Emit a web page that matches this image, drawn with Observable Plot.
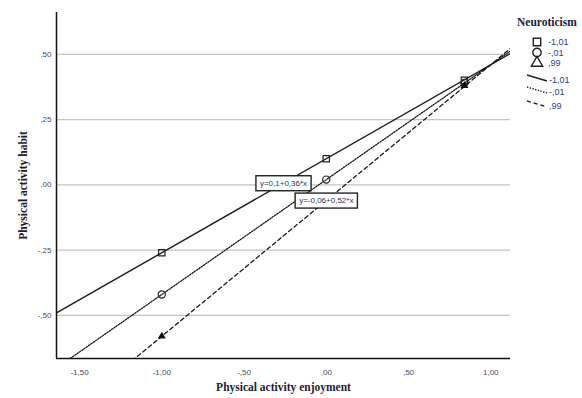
<!DOCTYPE html>
<html>
<head>
<meta charset="utf-8">
<script src="https://cdn.jsdelivr.net/npm/d3@7"></script>
<script src="https://cdn.jsdelivr.net/npm/@observablehq/plot@0.6"></script>
<style>
  html, body { margin: 0; padding: 0; background: #fff; }
  #chart { width: 582px; height: 398px; overflow: hidden; }
  #chart svg { overflow: hidden; }
  g[aria-label="x-axis label"] text, g[aria-label="y-axis label"] text {
    font-family: "Liberation Serif", "Times New Roman", serif; font-weight: bold; font-size: 11.5px; fill: #1c1c3a;
  }
</style>
</head>
<body>
<div id="chart"></div>
<script>
// ---- data ----
const xTicks = [-1.5, -1, -0.5, 0, 0.5, 1];
const yTicks = [-0.5, -0.25, 0, 0.25, 0.5];
const groups = ["-1,01", "-,01", ",99"];
const intercepts = [0.1, 0.02, -0.06];
const slopes = [0.36, 0.44, 0.52];
const pointX = [-1, 0, 0.84];
const pointY = [
  [-0.26, 0.10, 0.40],
  [-0.42, 0.02, 0.39],
  [-0.58, -0.06, 0.38]
];
const symbols = ["square", "circle", "triangle"];
const dashes = [null, "1.4,1.4", "4,3"];
const labelText = ["y=0,1+0,36*x", "y=-0,06+0,52*x"];
const labelGroup = [0, 2];
const labelX = [-0.26, 0];
const xDomain = [-1.64, 1.12];
const yDomain = [-0.665, 0.66];

// ---- derived tables ----
const points = [];
groups.forEach((g, i) => pointX.forEach((x, j) => points.push({g, x, y: pointY[i][j], sym: symbols[i], filled: i === 2})));
const lines = groups.map((g, i) => xDomain.map(x => ({g, x, y: intercepts[i] + slopes[i] * x})));
const labels = labelText.map((t, k) => ({t, x: labelX[k], y: intercepts[labelGroup[k]] + slopes[labelGroup[k]] * labelX[k]}));

const fmt = d => {
  let s = d.toFixed(2).replace(".", ",");
  return s.replace(/^(-?)0,/, "$1,");
};

const plot = Plot.plot({
  width: 582,
  height: 398,
  marginLeft: 56,
  marginRight: 72,
  marginTop: 12,
  marginBottom: 40,
  style: {fontFamily: "Liberation Sans, Arial, sans-serif", fontSize: "8px", background: "#fff"},
  x: {domain: xDomain},
  y: {domain: yDomain},
  marks: [
    Plot.gridY(yTicks, {stroke: "#c4c4c4", strokeOpacity: 1, strokeWidth: 1.3}),
    Plot.axisX(xTicks, {tickSize: 0, tickPadding: 11, tickFormat: fmt, color: "#3f4a66", label: "Physical activity enjoyment", labelAnchor: "center", labelOffset: 32, labelArrow: "none"}),
    Plot.axisY(yTicks, {tickSize: 0, tickPadding: 5, tickFormat: fmt, color: "#3f4a66", label: "Physical activity habit", labelAnchor: "center", labelOffset: 38, labelArrow: "none"}),
    ...lines.map((ln, i) => Plot.line(ln, {x: "x", y: "y", stroke: "#1a1a1a", strokeWidth: i === 0 ? 1.4 : 1.3, strokeDasharray: dashes[i], clip: true})),
    Plot.dot(points.filter(d => !d.filled), {x: "x", y: "y", symbol: "sym", r: 3.6, stroke: "#222", strokeWidth: 1.2, fill: "none"}),
    Plot.dot(points.filter(d => d.filled), {x: "x", y: "y", symbol: "sym", r: 2, stroke: "#111", fill: "#111"}),
    Plot.ruleX([xDomain[0]], {stroke: "#111", strokeWidth: 1.5}),
    Plot.ruleY([yDomain[0]], {stroke: "#111", strokeWidth: 1.5}),
    Plot.text(labels, {x: "x", y: "y", text: "t", fill: "#2b3560", fontSize: 8})
  ]
});

document.getElementById("chart").appendChild(plot);

// boxes behind equation labels
d3.select(plot).selectAll("text").filter(function() { return labelText.includes(this.textContent); }).each(function() {
  const b = this.getBBox();
  const padX = 4, padY = 3;
  const r = document.createElementNS("http://www.w3.org/2000/svg", "rect");
  r.setAttribute("x", b.x - padX);
  r.setAttribute("y", b.y - padY);
  r.setAttribute("width", b.width + 2 * padX);
  r.setAttribute("height", b.height + 2 * padY);
  r.setAttribute("fill", "#fff");
  r.setAttribute("stroke", "#222");
  r.setAttribute("stroke-width", "1.4");
  const tr = this.getAttribute("transform");
  if (tr) r.setAttribute("transform", tr);
  this.parentNode.insertBefore(r, this);
});

// legend
const svg = d3.select(plot);
const lg = svg.append("g").attr("font-family", "Liberation Sans, Arial, sans-serif").attr("font-size", 9).attr("text-anchor", "start");
lg.append("text").attr("x", 517).attr("y", 22).attr("dy", "0.35em")
  .attr("font-family", "Liberation Serif, Times New Roman, serif").attr("font-weight", "bold").attr("font-size", 11.5)
  .attr("fill", "#1c1c3a").text("Neuroticism");
const symMap = {square: d3.symbolSquare, circle: d3.symbolCircle, triangle: d3.symbolTriangle};
const symY = [42, 52.5, 63];
groups.forEach((g, i) => {
  lg.append("path").attr("transform", `translate(537,${symY[i]})`)
    .attr("d", d3.symbol(symMap[symbols[i]], 4.2 * 4.2 * Math.PI)())
    .attr("fill", "none").attr("stroke", "#222").attr("stroke-width", 1.4);
  lg.append("text").attr("x", 548).attr("y", symY[i]).attr("dy", "0.35em").attr("fill", "#2a3f8f").text(g);
});
const lineY = [79, 91, 105];
groups.forEach((g, i) => {
  lg.append("line").attr("x1", 527).attr("y1", lineY[i] - 4).attr("x2", 547).attr("y2", lineY[i] + 2)
    .attr("stroke", "#222").attr("stroke-width", 1.4).attr("stroke-dasharray", dashes[i]);
  lg.append("text").attr("x", 549).attr("y", lineY[i] + 1).attr("dy", "0.35em").attr("fill", "#2a3f8f").text(g);
});
</script>
</body>
</html>
